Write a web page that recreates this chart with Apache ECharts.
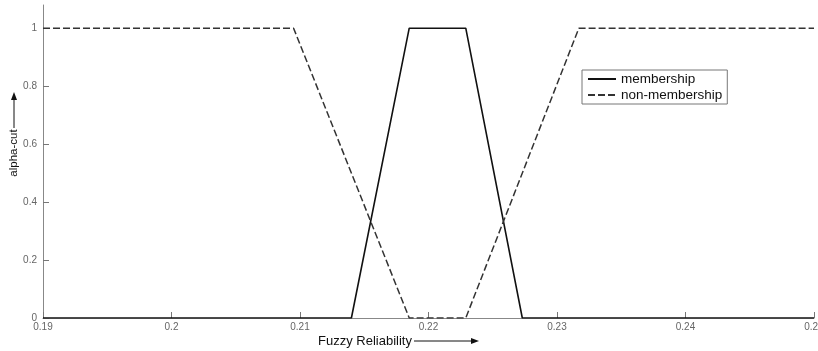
<!DOCTYPE html>
<html><head><meta charset="utf-8">
<script src="https://cdn.jsdelivr.net/npm/echarts@6/dist/echarts.min.js"></script>
<style>html,body{margin:0;padding:0;background:#fff}#c{width:818px;height:351px}</style>
</head><body><div id="c"></div>
<script>
const membershipX = [0.19, 0.2140, 0.2185, 0.2229, 0.2273, 0.25];
const membershipY = [0, 0, 1, 1, 0, 0];
const nonMembershipX = [0.19, 0.2095, 0.2185, 0.2229, 0.2317, 0.25];
const nonMembershipY = [1, 1, 0, 0, 1, 1];
const xTicks = [0.19, 0.2, 0.21, 0.22, 0.23, 0.24, 0.25];
const yTicks = [0, 0.2, 0.4, 0.6, 0.8, 1];
const seriesNames = ['membership', 'non-membership'];

const chart = echarts.init(document.getElementById('c'), null, {renderer: 'canvas'});
const font = 'Liberation Sans, Arial, sans-serif';
chart.setOption({
  animation: false,
  backgroundColor: '#fff',
  grid: {left: 43, right: 4, top: 5, bottom: 33, containLabel: false, outerBoundsMode: 'none'},
  xAxis: {
    type: 'value', min: 0.19, max: 0.25,
    axisLine: {lineStyle: {color: '#888', width: 1}},
    axisTick: {inside: true, length: 6, lineStyle: {color: '#777'}, customValues: xTicks},
    axisLabel: {customValues: xTicks, color: '#666', fontSize: 10, fontFamily: font, margin: 4,
      formatter: v => String(+v.toFixed(2))},
    splitLine: {show: false}
  },
  yAxis: {
    type: 'value', min: 0, max: 1.08,
    axisLine: {show: true, lineStyle: {color: '#888', width: 1}},
    axisTick: {show: true, inside: true, length: 6, lineStyle: {color: '#777'}, customValues: yTicks},
    axisLabel: {customValues: yTicks, color: '#666', fontSize: 10, fontFamily: font, margin: 6,
      formatter: v => String(+v.toFixed(1))},
    splitLine: {show: false}
  },
  legend: {
    orient: 'vertical', left: 582, top: 70,
    data: seriesNames,
    itemWidth: 28, itemHeight: 13, itemGap: 2,
    padding: [2, 5, 2, 5],
    borderColor: '#777', borderWidth: 1,
    itemStyle: {color: 'transparent', borderColor: 'transparent', borderWidth: 0, opacity: 0},
    textStyle: {fontSize: 13.5, fontFamily: font, color: '#111'}
  },
  series: [
    {name: seriesNames[0], type: 'line', symbol: 'none',
     data: membershipX.map((x, i) => [x, membershipY[i]]),
     lineStyle: {color: '#111', width: 1.6}, itemStyle: {color: '#111'}},
    {name: seriesNames[1], type: 'line', symbol: 'none',
     data: nonMembershipX.map((x, i) => [x, nonMembershipY[i]]),
     lineStyle: {color: '#333', width: 1.5, type: [7, 3]}, itemStyle: {color: '#333'}}
  ],
  graphic: [
    {type: 'text', x: 318, y: 341, style: {text: 'Fuzzy Reliability', font: '13px ' + font, fill: '#111', verticalAlign: 'middle'}},
    {type: 'line', shape: {x1: 414, y1: 341, x2: 472, y2: 341}, style: {stroke: '#111', lineWidth: 1}},
    {type: 'polygon', shape: {points: [[479, 341], [471, 338], [471, 344]]}, style: {fill: '#111'}},
    {type: 'text', x: 14, y: 153, rotation: Math.PI / 2,
     style: {text: 'alpha-cut', font: '11.5px ' + font, fill: '#111', align: 'center', verticalAlign: 'middle'}},
    {type: 'line', shape: {x1: 14, y1: 128, x2: 14, y2: 98}, style: {stroke: '#111', lineWidth: 1}},
    {type: 'polygon', shape: {points: [[14, 92], [11, 100], [17, 100]]}, style: {fill: '#111'}}
  ]
});
</script></body></html>
